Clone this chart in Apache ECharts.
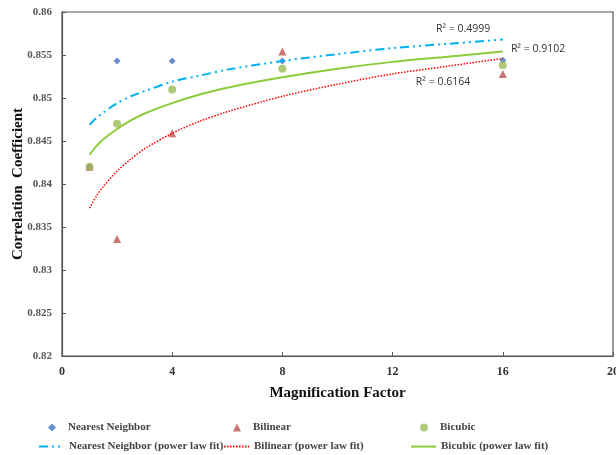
<!DOCTYPE html>
<html lang="en">
<head>
    <meta charset="UTF-8">
    <title>Correlation Coefficient vs Magnification Factor</title>
    <style>
        body{
            margin: 0;
        }
    </style>
</head>
<body>
<div id="chart" style="width: 616px;height:455px;"></div>
<script src="https://cdn.jsdelivr.net/npm/echarts@6/dist/echarts.min.js"></script>
<script>

    // magnification factors
    var factors = [1, 2, 4, 8, 16];
    // measured correlation coefficients
    var nearest = [0.842, 0.8543, 0.8543, 0.8543, 0.8544];
    var bilinear = [0.842, 0.8336, 0.8459, 0.8554, 0.8528];
    var bicubic = [0.842, 0.8470, 0.8510, 0.8534, 0.8538];

    // power law trend lines
    var fitX = [1, 1.25, 1.5, 2, 2.5, 3, 4, 5, 6, 8, 10, 12, 14, 16];
    var nearestFit = [0.8469, 0.8477, 0.8483, 0.8494, 0.8502, 0.8508, 0.8519, 0.8526, 0.8533, 0.8543, 0.8551, 0.8558, 0.8563, 0.8568];
    var bilinearFit = [0.8372, 0.8386, 0.8397, 0.8415, 0.8429, 0.8441, 0.8459, 0.8473, 0.8484, 0.8502, 0.8516, 0.8528, 0.8537, 0.8546];
    var bicubicFit = [0.8434, 0.8444, 0.8452, 0.8464, 0.8474, 0.8482, 0.8494, 0.8504, 0.8512, 0.8524, 0.8534, 0.8542, 0.8548, 0.8554];

    // R squared labels [x, y, text]
    var r2Nearest = [14.56, 0.85807, 'R² = 0.4999'];
    var r2Bilinear = [13.83, 0.85187, 'R² = 0.6164'];
    var r2Bicubic = [17.28, 0.85567, 'R² = 0.9102'];

    var names = ['Nearest Neighbor', 'Bilinear', 'Bicubic',
        'Nearest Neighbor (power law fit)', 'Bilinear (power law fit)', 'Bicubic (power law fit)'];

    function pairs(xs, ys) {
        var out = [];
        for (var i = 0; i < xs.length; i++) {
            out.push([xs[i], ys[i]]);
        }
        return out;
    }

    function r2Mark(r) {
        return {
            symbol: 'circle',
            symbolSize: 1,
            itemStyle: {color: 'rgba(0,0,0,0)'},
            label: {
                show: true,
                position: 'inside',
                formatter: r[2],
                fontFamily: 'Open Sans',
                fontSize: 10.5,
                color: '#333'
            },
            data: [{coord: [r[0], r[1]]}]
        };
    }

    var serifFont = 'Liberation Serif';
    var colLeft = [38, 223, 410];
    var legends = [];
    for (var i = 0; i < names.length; i++) {
        var marker = i < 3;
        legends.push({
            data: [names[i]],
            left: marker ? colLeft[i] + 10 : colLeft[i % 3],
            top: marker ? 422 : 441,
            itemWidth: marker ? 8 : 25,
            itemHeight: marker ? 8 : 14,
            padding: 0,
            itemStyle: marker ? {} : {opacity: 0},
            textStyle: {
                fontFamily: serifFont, fontWeight: 'bold', fontSize: 11, color: '#444',
                padding: marker ? [0, 0, 0, 7] : 0
            }
        });
    }

    var myChart = echarts.init(document.getElementById('chart'));
    var option = {
        animation: false,
        backgroundColor: '#fff',
        grid: {
            left: 62,
            right: 3,
            top: 12,
            bottom: 99,
            outerBoundsMode: 'none',
            containLabel: false,
            show: true,
            borderColor: '#555',
            borderWidth: 1.2
        },
        legend: legends,
        xAxis: {
            type: 'value',
            min: 0,
            max: 20,
            interval: 4,
            name: 'Magnification Factor',
            nameLocation: 'middle',
            nameGap: 30,
            nameMoveOverlap: false,
            nameTextStyle: {fontFamily: serifFont, fontWeight: 'bold', fontSize: 15, color: '#111'},
            axisLine: {lineStyle: {color: '#555', width: 1.2}},
            axisTick: {inside: true, length: 4, lineStyle: {color: '#555'}},
            axisLabel: {fontFamily: serifFont, fontWeight: 'bold', fontSize: 12, color: '#333', margin: 10},
            splitLine: {show: false}
        },
        yAxis: {
            type: 'value',
            min: 0.82,
            max: 0.86,
            interval: 0.005,
            name: 'Correlation  Coefficient',
            nameLocation: 'middle',
            nameGap: 36,
            nameMoveOverlap: false,
            nameTextStyle: {fontFamily: serifFont, fontWeight: 'bold', fontSize: 15, color: '#111'},
            axisLine: {show: true, lineStyle: {color: '#555', width: 1.2}},
            axisTick: {show: true, inside: true, length: 4, lineStyle: {color: '#555'}},
            axisLabel: {
                fontFamily: serifFont, fontWeight: 'bold', fontSize: 11, color: '#555', margin: 10,
                formatter: function (v) {
                    return String(parseFloat(v.toFixed(3)));
                }
            },
            splitLine: {show: false}
        },
        series: [
            {
                name: names[3],
                type: 'line',
                smooth: 0.3,
                symbol: 'none',
                data: pairs(fitX, nearestFit),
                itemStyle: {color: '#00B0F0'},
                lineStyle: {color: '#00B0F0', width: 2, type: [9, 4, 2, 4, 2, 4]},
                markPoint: r2Mark(r2Nearest)
            },
            {
                name: names[4],
                type: 'line',
                smooth: 0.3,
                symbol: 'none',
                data: pairs(fitX, bilinearFit),
                itemStyle: {color: '#FF0000'},
                lineStyle: {color: '#FF0000', width: 1.5, type: [1.5, 1.5]},
                markPoint: r2Mark(r2Bilinear)
            },
            {
                name: names[5],
                type: 'line',
                smooth: 0.3,
                symbol: 'none',
                data: pairs(fitX, bicubicFit),
                itemStyle: {color: '#8CCB3A'},
                lineStyle: {color: '#8CCB3A', width: 2},
                markPoint: r2Mark(r2Bicubic)
            },
            {
                name: names[0],
                type: 'scatter',
                symbol: 'diamond',
                symbolSize: 7,
                data: pairs(factors, nearest),
                itemStyle: {color: '#4472C4'}
            },
            {
                name: names[1],
                type: 'scatter',
                symbol: 'triangle',
                symbolSize: 8,
                data: pairs(factors, bilinear),
                itemStyle: {color: '#C0504D'}
            },
            {
                name: names[2],
                type: 'scatter',
                symbol: 'circle',
                symbolSize: 8,
                data: pairs(factors, bicubic),
                itemStyle: {color: '#9BBB59'}
            }
        ]
    };
    myChart.setOption(option);

</script>
</body>
</html>
